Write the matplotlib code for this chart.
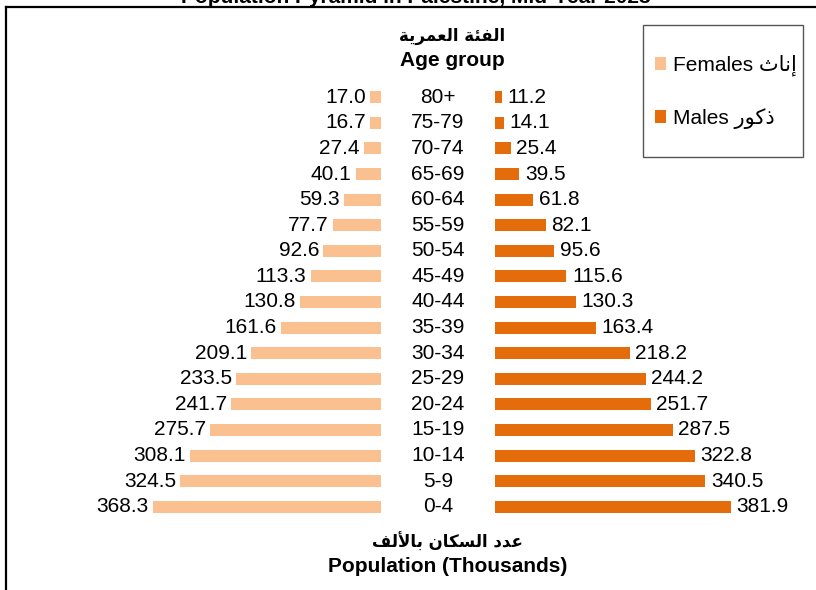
"""Population pyramid, Palestine mid-year 2023 (thousands)."""

import matplotlib

matplotlib.use("Agg")

import matplotlib.pyplot as plt
from matplotlib.lines import Line2D
from matplotlib.patches import Rectangle

AGES = ["0-4", "5-9", "10-14", "15-19", "20-24", "25-29", "30-34", "35-39",
        "40-44", "45-49", "50-54", "55-59", "60-64", "65-69", "70-74",
        "75-79", "80+"]
FEMALES = [368.3, 324.5, 308.1, 275.7, 241.7, 233.5, 209.1, 161.6, 130.8,
           113.3, 92.6, 77.7, 59.3, 40.1, 27.4, 16.7, 17.0]
MALES = [381.9, 340.5, 322.8, 287.5, 251.7, 244.2, 218.2, 163.4, 130.3,
         115.6, 95.6, 82.1, 61.8, 39.5, 25.4, 14.1, 11.2]

FEMALE_COLOR = "#FAC090"
MALE_COLOR = "#E46C0A"
FONTS = ["Liberation Sans", "DejaVu Sans"]
GAP = 92.5  # half of the empty middle strip, in thousands


def rtl(text):
    # Arabic is stored in shaped presentation forms, logical order;
    # matplotlib draws left to right, so reverse for display.
    return text[::-1]


AR_AGE = rtl("\ufe8d\ufedf\ufed4\ufe8c\ufe94 \ufe8d\ufedf\ufecc\ufee4\ufeae\ufef3\ufe94")
AR_POP = rtl("\ufecb\ufeaa\ufea9 \ufe8d\ufedf\ufeb4\ufedc\ufe8e\ufee5 \ufe91\ufe8e\ufef7\ufedf\ufed2")
AR_FEMALES = rtl("\ufe87\ufee7\ufe8e\ufe99")
AR_MALES = rtl("\ufeab\ufedb\ufeee\ufead")

plt.rcParams["font.family"] = FONTS

fig = plt.figure(figsize=(8.16, 5.90), dpi=100, facecolor="white")
ax = fig.add_axes([0, 0, 1, 1])
ax.set_xlim(-708.5, 611.9)
ax.set_ylim(-3.255, 19.80)
ax.axis("off")

rows = list(range(len(AGES)))
fem = ax.barh(rows, [-v for v in FEMALES], left=-GAP, height=0.47,
              color=FEMALE_COLOR, edgecolor="none")
mal = ax.barh(rows, MALES, left=GAP, height=0.47,
              color=MALE_COLOR, edgecolor="none")

for i, (age, f, m) in enumerate(zip(AGES, FEMALES, MALES)):
    ax.text(0, i, age, ha="center", va="center", fontsize=15)
    ax.annotate(f"{f:.1f}", xy=(-GAP - f, i), xytext=(-3, 0),
                textcoords="offset points", ha="right", va="center",
                fontsize=15)
    ax.annotate(f"{m:.1f}", xy=(GAP + m, i), xytext=(4, 0),
                textcoords="offset points", ha="left", va="center",
                fontsize=15)

W, H = 816.0, 590.0
fig.text(452 / W, 1 - 36 / H, AR_AGE, ha="center", va="center",
         fontsize=12, fontweight="bold", family=["DejaVu Sans"])
fig.text(452 / W, 1 - 61 / H, "Age group", ha="center", va="center",
         fontsize=15, fontweight="bold")
fig.text(447 / W, 1 - 542 / H, AR_POP, ha="center", va="center",
         fontsize=12, fontweight="bold", family=["DejaVu Sans"])
fig.text(448 / W, 1 - 567 / H, "Population (Thousands)", ha="center",
         va="center", fontsize=15, fontweight="bold")

# title sits mostly above the visible area, as in the source image
fig.text(416 / W, 1 - 3 / H, "Population Pyramid in Palestine, Mid-Year 2023",
         ha="center", va="baseline", fontsize=15, fontweight="bold")

# outer chart border (left and top only visible)
fig.add_artist(Line2D([6 / W, 6 / W], [0, 1 - 7 / H], color="black",
                      linewidth=1.6, transform=fig.transFigure))
fig.add_artist(Line2D([6 / W, 1], [1 - 7 / H, 1 - 7 / H], color="black",
                      linewidth=1.6, transform=fig.transFigure))

# legend frame and entries
fig.add_artist(Rectangle((643 / W, 1 - 157 / H), 160 / W, 132 / H,
                         fill=False, edgecolor="#555555", linewidth=1.0,
                         transform=fig.transFigure))
ax.legend([fem, mal], ["Females " + AR_FEMALES, "Males " + AR_MALES],
          loc="upper left", bbox_to_anchor=(655 / W, 1 - 55 / H),
          bbox_transform=fig.transFigure, frameon=False, fontsize=15,
          handlelength=0.55, handleheight=0.55, handletextpad=0.3,
          labelspacing=1.5, borderpad=0, borderaxespad=0)

fig.savefig("out.png", dpi=100, facecolor="white")
